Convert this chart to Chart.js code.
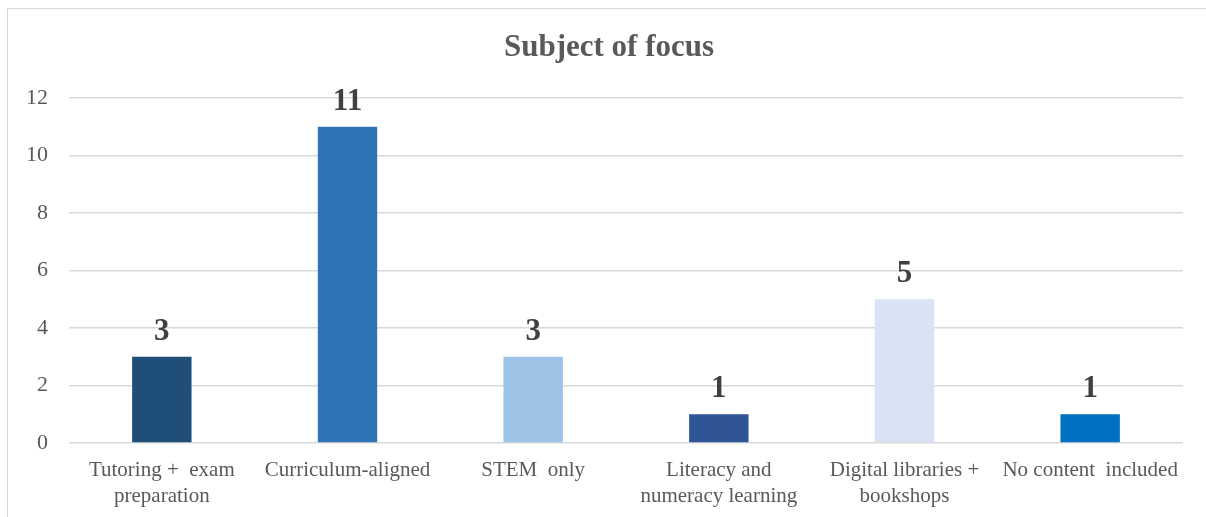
<!DOCTYPE html>
<html>
<head>
<meta charset="utf-8">
<script src="https://cdn.jsdelivr.net/npm/chart.js@4.4.1/dist/chart.umd.min.js"></script>
<style>
html,body{margin:0;padding:0;background:#fff;overflow:hidden;}
#wrap{position:relative;width:1206px;height:517px;overflow:hidden;}
#frame{position:absolute;left:7px;top:8px;width:1199px;height:509px;border-top:1px solid #d9d9d9;border-left:1px solid #d9d9d9;box-sizing:border-box;}
canvas{position:absolute;left:0;top:0;}
</style>
</head>
<body>
<div id="wrap"><div id="frame"></div><canvas id="c" width="1206" height="517"></canvas></div>
<script>
const titleText = "Subject of focus";
const categories = [
  ["Tutoring +  exam", "preparation"],
  "Curriculum-aligned",
  "STEM  only",
  ["Literacy and", "numeracy learning"],
  ["Digital libraries +", "bookshops"],
  "No content  included"
];
const values = [3, 11, 3, 1, 5, 1];
const barColors = ["#1F4E79", "#2E75B6", "#9DC3E6", "#2F5597", "#DAE3F3", "#0070C0"];
const yTicks = [0, 2, 4, 6, 8, 10, 12];

const FONT = "'Liberation Serif','Times New Roman',serif";

const titlePlugin = {
  id: 'customTitle',
  afterDraw(chart) {
    const ctx = chart.ctx;
    ctx.save();
    ctx.font = "bold 31px " + FONT;
    ctx.fillStyle = "#595959";
    ctx.textAlign = "center";
    ctx.textBaseline = "middle";
    ctx.fillText(titleText, 609, 48);
    ctx.restore();
  }
};

const labelPlugin = {
  id: 'valueLabels',
  afterDatasetsDraw(chart) {
    const ctx = chart.ctx;
    const meta = chart.getDatasetMeta(0);
    ctx.save();
    ctx.font = "bold 31px " + FONT;
    ctx.fillStyle = "#404040";
    ctx.textAlign = "center";
    ctx.textBaseline = "alphabetic";
    meta.data.forEach((bar, i) => {
      ctx.fillText(String(values[i]), bar.x, bar.y - 17);
    });
    ctx.restore();
  }
};

new Chart(document.getElementById('c'), {
  type: 'bar',
  data: {
    labels: categories,
    datasets: [{
      data: values,
      backgroundColor: barColors,
      borderWidth: 0,
      barPercentage: 0.64,
      categoryPercentage: 0.5
    }]
  },
  options: {
    responsive: false,
    animation: false,
    devicePixelRatio: 1,
    layout: { padding: { top: 98, right: 23, left: 0, bottom: 0 } },
    plugins: { legend: { display: false }, title: { display: false }, tooltip: { enabled: false } },
    scales: {
      x: {
        grid: { display: false },
        border: { display: false },
        ticks: {
          color: "#595959",
          font: { family: FONT, size: 21, lineHeight: 1.24 },
          maxRotation: 0, minRotation: 0, autoSkip: false, padding: 6
        },
        afterFit(s) { s.height = 74; }
      },
      y: {
        min: 0, max: 12,
        afterBuildTicks(s) { s.ticks = yTicks.map(v => ({ value: v })); },
        grid: { color: "#d9d9d9", lineWidth: 1.5, drawTicks: false },
        border: { display: false },
        ticks: {
          color: "#595959",
          font: { family: FONT, size: 22 },
          padding: 21
        },
        afterFit(s) { s.width = 69; }
      }
    }
  },
  plugins: [titlePlugin, labelPlugin]
});
</script>
</body>
</html>
